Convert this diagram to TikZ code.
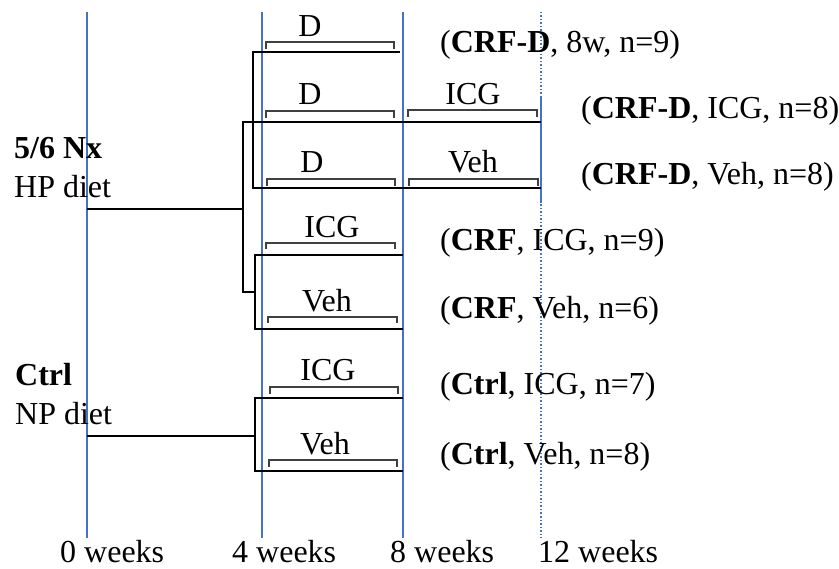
\documentclass[tikz,border=0pt]{standalone}
\usepackage{fontspec}
\setmainfont{Liberation Serif}
\begin{document}
\begin{tikzpicture}[x=1pt,y=-1pt,
  timeline/.style={draw=blueline,line width=1.5pt},
  branch/.style={draw=black,line width=2pt,line join=miter},
  bracketline/.style={draw=black!75,line width=1.6pt},
  lbl/.style={inner sep=0pt,font=\fontsize{32}{36}\selectfont},
  rowlbl/.style={lbl,anchor=base},
  grp/.style={lbl,anchor=west},
  side/.style={lbl,anchor=base west}]
\definecolor{blueline}{RGB}{68,114,196}
\useasboundingbox (0,0) rectangle (839,569);
% timelines
\coordinate (t0a) at (87,12);  \coordinate (t0b) at (87,538);
\coordinate (t4a) at (262,12); \coordinate (t4b) at (262,538);
\coordinate (t8a) at (403,12); \coordinate (t8b) at (403,538);
\coordinate (t12a) at (541,12); \coordinate (t12b) at (541,538);
\coordinate (t12c) at (541,97); \coordinate (t12d) at (541,203);
\draw[timeline] (t0a) -- (t0b);
\draw[timeline] (t4a) -- (t4b);
\draw[timeline] (t8a) -- (t8b);
\draw[draw=blueline,line width=1.5pt,dotted] (t12a) -- (t12b);
\draw[timeline] (t12c) -- (t12d);
% branches: 5/6 Nx
\coordinate (nx) at (87,209); \coordinate (nxj) at (243,209);
\coordinate (v1a) at (243,122); \coordinate (v1b) at (243,292);
\coordinate (r2e) at (541,122);
\coordinate (v2a) at (253,52); \coordinate (v2b) at (253,188);
\coordinate (r1e) at (400,52); \coordinate (r3e) at (541,188);
\coordinate (v3j) at (255,292);
\coordinate (v3a) at (255,255); \coordinate (v3b) at (255,329);
\coordinate (r4e) at (403,255); \coordinate (r5e) at (403,329);
\draw[branch] (nx) -- (nxj);
\draw[branch] (r2e) -- (v1a) -- (v1b) -- (v3j);
\draw[branch] (r1e) -- (v2a) -- (v2b) -- (r3e);
\draw[branch] (r4e) -- (v3a) -- (v3b) -- (r5e);
% branches: Ctrl
\coordinate (ct) at (87,436); \coordinate (ctj) at (255,436);
\coordinate (v4a) at (255,398); \coordinate (v4b) at (255,471);
\coordinate (r6e) at (403,398); \coordinate (r7e) at (403,471);
\draw[branch] (ct) -- (ctj);
\draw[branch] (r6e) -- (v4a) -- (v4b) -- (r7e);
% brackets
\draw[bracketline] (266,49) -- (266,42) -- (394,42) -- (394,49);
\draw[bracketline] (266,118) -- (266,111) -- (394,111) -- (394,118);
\draw[bracketline] (408,117) -- (408,110) -- (537,110) -- (537,117);
\draw[bracketline] (267,186) -- (267,179) -- (395,179) -- (395,186);
\draw[bracketline] (409,186) -- (409,179) -- (538,179) -- (538,186);
\draw[bracketline] (266,249) -- (266,243) -- (395,243) -- (395,249);
\draw[bracketline] (268,323) -- (268,317) -- (397,317) -- (397,323);
\draw[bracketline] (270,394) -- (270,387) -- (398,387) -- (398,394);
\draw[bracketline] (269,467) -- (269,460) -- (397,460) -- (397,467);
% bracket labels
\node[rowlbl] (l1) at (310,37) {D};
\node[rowlbl] (l2) at (310,105) {D};
\node[rowlbl] (l2b) at (473,105) {ICG};
\node[rowlbl] (l3) at (312,173) {D};
\node[rowlbl] (l3b) at (473,173) {Veh};
\node[rowlbl] (l4) at (332,238) {ICG};
\node[rowlbl] (l5) at (327,312) {Veh};
\node[rowlbl] (l6) at (328,381) {ICG};
\node[rowlbl] (l7) at (325,455) {Veh};
% group labels
\node[grp] (g1) at (440,45) {(\textbf{CRF-D}, 8w, n=9)};
\node[grp] (g2) at (581,111) {(\textbf{CRF-D}, ICG, n=8)};
\node[grp] (g3) at (581,177) {(\textbf{CRF-D}, Veh, n=8)};
\node[grp] (g4) at (440,243) {(\textbf{CRF}, ICG, n=9)};
\node[grp] (g5) at (440,311) {(\textbf{CRF}, Veh, n=6)};
\node[grp] (g6) at (440,387) {(\textbf{Ctrl}, ICG, n=7)};
\node[grp] (g7) at (440,457) {(\textbf{Ctrl}, Veh, n=8)};
% side labels
\node[side] (s1) at (14,159) {\textbf{5/6 Nx}};
\node[side] (s2) at (14,198) {HP diet};
\node[side] (s3) at (15,386) {\textbf{Ctrl}};
\node[side] (s4) at (15,425) {NP diet};
% week labels
\node[side] (w0) at (60,562) {0 weeks};
\node[side] (w4) at (232,562) {4 weeks};
\node[side] (w8) at (390,562) {8 weeks};
\node[side] (w12) at (538,562) {12 weeks};
\end{tikzpicture}
\end{document}
